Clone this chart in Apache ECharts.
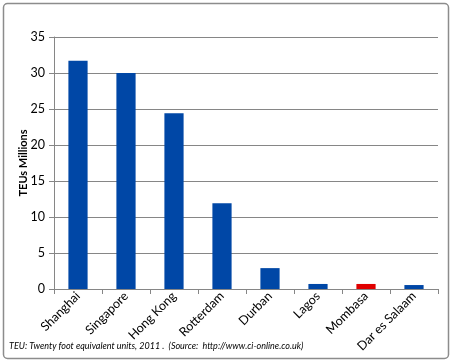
<!DOCTYPE html>
<html><head><meta charset="utf-8">
<script src="https://cdn.jsdelivr.net/npm/echarts@6/dist/echarts.min.js"></script>
<style>html,body{margin:0;padding:0;background:#fff}#c{width:452px;height:362px}</style>
</head><body><div id="c"></div>
<script>
const categories = ['Shanghai','Singapore','Hong Kong','Rotterdam','Durban','Lagos','Mombasa','Dar es Salaam'];
const values = [31.7, 30.0, 24.4, 11.9, 2.9, 0.7, 0.7, 0.55];
const highlight = 'Mombasa';
const yTicks = [0, 5, 10, 15, 20, 25, 30, 35];
const yName = 'TEUs Millions';
const footnote = 'TEU: Twenty foot equivalent units, 2011 .  (Source:  http://www.ci-online.co.uk)';
const FONT = 'Lato';
const chart = echarts.init(document.getElementById('c'));
chart.setOption({
  animation: false,
  backgroundColor: '#fff',
  grid: {left: 54, right: 14, top: 37, bottom: 73, containLabel: false},
  xAxis: {
    type: 'category', data: categories,
    axisLine: {lineStyle: {color: '#868686'}},
    axisTick: {show: true, alignWithLabel: false, length: 5, lineStyle: {color: '#868686'}},
    axisLabel: {rotate: 45, interval: 0, color: '#000', fontFamily: FONT, fontSize: 12.5, margin: 5}
  },
  yAxis: {
    type: 'value', min: yTicks[0], max: yTicks[yTicks.length-1], interval: 5,
    name: yName, nameLocation: 'middle', nameGap: 25, nameRotate: 90, nameMoveOverlap: false,
    nameTextStyle: {fontFamily: FONT, fontWeight: 'bold', fontSize: 11, color: '#000'},
    axisLine: {show: true, lineStyle: {color: '#868686'}},
    axisTick: {show: true, length: 5, lineStyle: {color: '#868686'}},
    axisLabel: {color: '#000', fontFamily: FONT, fontSize: 12.5, margin: 9},
    splitLine: {lineStyle: {color: '#868686'}}
  },
  series: [{
    type: 'bar', barWidth: '40%',
    data: categories.map((c, i) => ({value: values[i], itemStyle: {color: c === highlight ? '#E00000' : '#0047A6'}}))
  }],
  graphic: [
    {type: 'rect', shape: {x: 3.5, y: 3.5, width: 445, height: 355, r: 4}, style: {fill: 'none', stroke: '#8c8c8c', lineWidth: 1.5}},
    {type: 'text', left: 9, top: 342, style: {text: footnote, font: 'italic 9px ' + FONT, fill: '#000'}}
  ]
});
</script></body></html>
